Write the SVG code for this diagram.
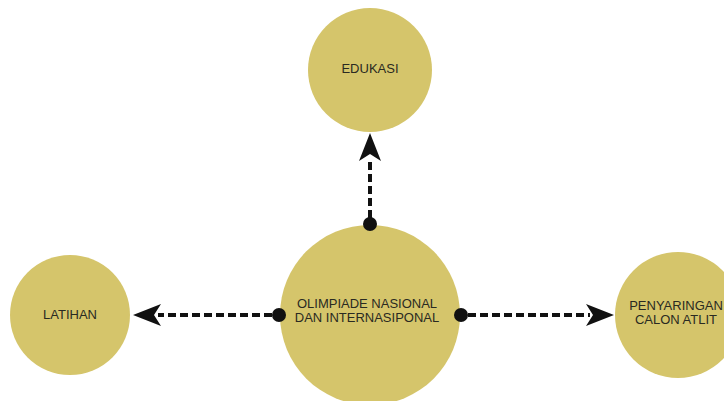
<svg xmlns="http://www.w3.org/2000/svg" width="724" height="401" viewBox="0 0 724 401">
<style>
.node{fill:#d5c56b}
.lbl{font-family:"Liberation Sans",Arial,sans-serif;font-size:13px;fill:#2a2a22;text-anchor:middle}
.conn{stroke:#111;stroke-width:4;stroke-dasharray:8 4;fill:none}
.dot{fill:#111}
.head{fill:#111}
</style>
<rect width="724" height="401" fill="#fff"/>
<g id="node-edukasi"><circle class="node" cx="370" cy="70" r="62"/><text class="lbl" x="370" y="73">EDUKASI</text></g>
<g id="node-latihan"><circle class="node" cx="70" cy="315" r="60"/><text class="lbl" x="70" y="319">LATIHAN</text></g>
<g id="node-penyaringan"><circle class="node" cx="678" cy="315" r="63"/><text class="lbl" x="676" y="310">PENYARINGAN</text><text class="lbl" x="676" y="324">CALON ATLIT</text></g>
<g id="node-olimpiade"><circle class="node" cx="370" cy="315" r="90"/><text class="lbl" x="367" y="308">OLIMPIADE NASIONAL</text><text class="lbl" x="367" y="322">DAN INTERNASIPONAL</text></g>
<g id="connectors">
<line class="conn" x1="370" y1="218" x2="370" y2="158"/>
<polygon class="head" points="370,133 359,161 370,154 381,161"/>
<circle class="dot" cx="370" cy="224" r="7"/>
<line class="conn" x1="272" y1="315" x2="158" y2="315"/>
<polygon class="head" points="133,315 161,304 154,315 161,326"/>
<circle class="dot" cx="279" cy="315" r="7"/>
<line class="conn" x1="468" y1="315" x2="590" y2="315"/>
<polygon class="head" points="614,315 586,304 593,315 586,326"/>
<circle class="dot" cx="461" cy="315" r="7"/>
</g>
</svg>
